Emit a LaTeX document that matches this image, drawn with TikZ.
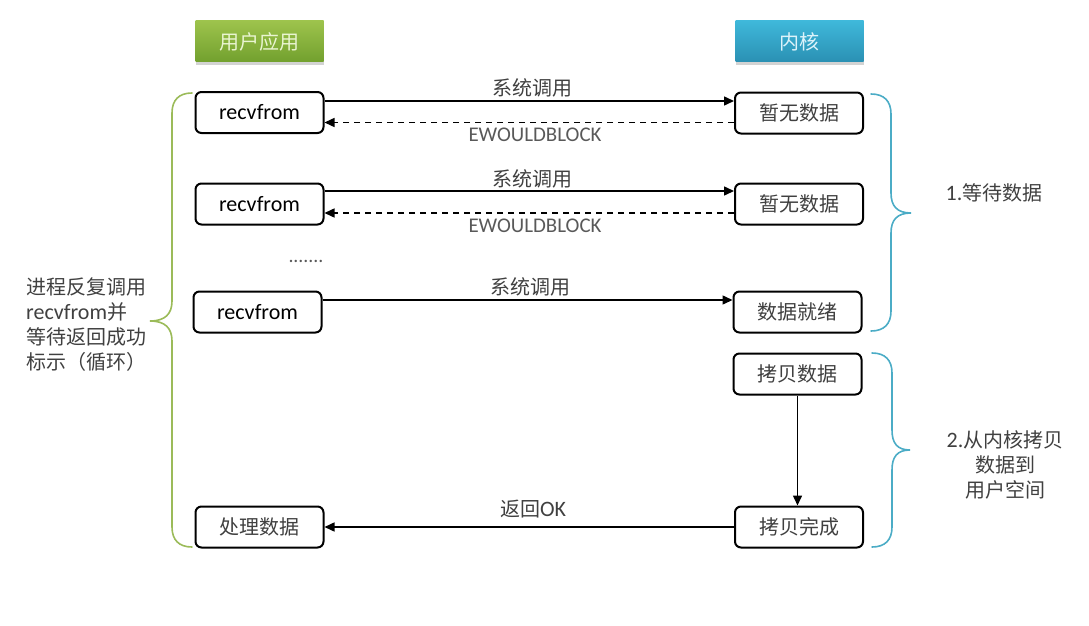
\documentclass[tikz,border=0pt]{standalone}
\usepackage{fontspec}
\setmainfont{Noto Sans CJK SC}
\newfontfamily\lat[Scale=1.1]{Carlito}
\usetikzlibrary{arrows.meta,shadows}
\definecolor{txt}{HTML}{404040}
\definecolor{gtxt}{HTML}{595959}
\definecolor{bgreen}{HTML}{9BBB59}
\definecolor{bblue}{HTML}{4BACC6}
\definecolor{gtop}{HTML}{9DC34C}
\definecolor{gbot}{HTML}{72A02E}
\definecolor{gtext}{HTML}{EAF5D2}
\definecolor{btop}{HTML}{3FB8DA}
\definecolor{bbot}{HTML}{2A90B3}
\definecolor{btext}{HTML}{DDF3FA}
\tikzset{
  box/.style={draw=black, line width=2pt, rounded corners=6pt, minimum width=128pt, minimum height=41pt, inner sep=0pt, fill=white, text=txt, font=\fontsize{20}{24}\selectfont},
  hdr/.style={minimum width=128pt, minimum height=41pt, inner sep=0pt, font=\fontsize{20}{24}\selectfont, drop shadow={shadow xshift=0pt, shadow yshift=-3pt, opacity=0.35}},
  arr/.style={line width=1.5pt, -{Triangle[length=10pt,width=9pt]}},
  darr/.style={arr, dash pattern=on 6pt off 5pt},
  lbl/.style={text=txt, font=\fontsize{20}{24}\selectfont, inner sep=0pt},
  glbl/.style={text=gtxt, font=\lat\fontsize{19}{24}\selectfont, inner sep=0pt},
  brace/.style={line width=1.6pt, line cap=round}
}
\begin{document}
\begin{tikzpicture}[x=1pt,y=-1pt]
\path[use as bounding box] (0,0) rectangle (1089,626);
% headers
\node[hdr, top color=gtop, bottom color=gbot, text=gtext] (h1) at (259.5,41.5) {用户应用};
\node[hdr, top color=btop, bottom color=bbot, text=btext] (h2) at (799.5,41.5) {内核};
% boxes
\node[box, text=black] (r1) at (259.5,112.5) {\lat recvfrom};
\node[box] (k1) at (799,113) {暂无数据};
\node[box, text=black] (r2) at (259.5,204) {\lat recvfrom};
\node[box] (k2) at (799,204) {暂无数据};
\node[box, text=black] (r3) at (257.5,312) {\lat recvfrom};
\node[box] (k3) at (797.5,312) {数据就绪};
\node[box] (k4) at (797.5,374) {拷贝数据};
\node[box] (u5) at (259.5,527) {处理数据};
\node[box] (k5) at (799,527) {拷贝完成};
% arrows
\draw[arr] ([yshift=11.5pt]r1.east) -- ([yshift=11.5pt]r1.east -| k1.west);
\draw[darr] ([yshift=-9.5pt]k1.west) -- ([yshift=-9.5pt]k1.west -| r1.east);
\draw[arr] ([yshift=13pt]r2.east) -- ([yshift=13pt]r2.east -| k2.west);
\draw[darr] ([yshift=-9pt]k2.west) -- ([yshift=-9pt]k2.west -| r2.east);
\draw[arr] ([yshift=12pt]r3.east) -- ([yshift=12pt]r3.east -| k3.west);
\draw[arr] (k4.south) -- (k4.south |- k5.north);
\draw[arr] (k5.west) -- (k5.west -| u5.east);
% labels
\node[lbl] (l1) at (532,88) {系统调用};
\node[glbl] (e1) at (535,135) {EWOULDBLOCK};
\node[lbl] (l2) at (532,179) {系统调用};
\node[glbl] (e2) at (535,226) {EWOULDBLOCK};
\node[lbl] (l3) at (530,287) {系统调用};
\node[lbl] (l4) at (533,509) {返回{\lat OK}};
\node[text=gtxt, font=\lat\fontsize{18}{20}\selectfont, inner sep=0pt] (dots) at (306,261) {.......};
% left text
\node[lbl, anchor=west, align=left, font=\fontsize{20}{25.2}\selectfont] (lt) at (26,324.5) {进程反复调用\\{\lat recvfrom}并\\等待返回成功\\标示（循环）};
% right texts
\node[lbl] (t1) at (994,193) {{\lat 1.}等待数据};
\node[lbl, align=center, font=\fontsize{20}{25}\selectfont] (t2) at (1005,465) {{\lat 2.}从内核拷贝\\数据到\\用户空间};
% braces
\draw[brace, bgreen] (192,93) .. controls (179,93) and (172,100) .. (172,113) -- (172,301) .. controls (172,314) and (165,321) .. (150,321) .. controls (165,321) and (172,328) .. (172,341) -- (172,527) .. controls (172,540) and (179,547) .. (192,547);
\draw[brace, bblue] (871,94) .. controls (884,94) and (891,101) .. (891,114) -- (891,193) .. controls (891,206) and (897,213) .. (911,213) .. controls (897,213) and (891,220) .. (891,233) -- (891,311) .. controls (891,324) and (884,331) .. (871,331);
\draw[brace, bblue] (872,353) .. controls (885,353) and (892,360) .. (892,373) -- (892,430) .. controls (892,443) and (897,450) .. (910,450) .. controls (897,450) and (892,457) .. (892,470) -- (892,527) .. controls (892,540) and (885,547) .. (872,547);
\end{tikzpicture}
\end{document}
